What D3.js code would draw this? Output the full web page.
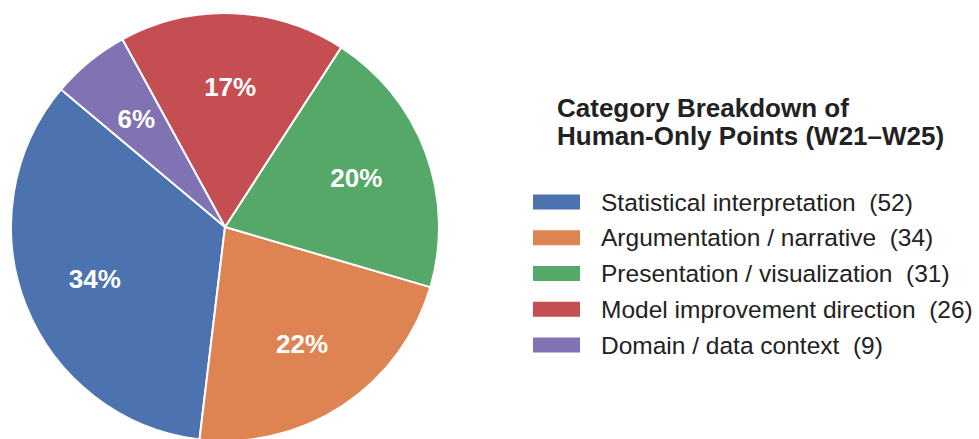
<!DOCTYPE html>
<html>
<head>
<meta charset="utf-8">
<script src="https://cdn.jsdelivr.net/npm/d3@7"></script>
<style>
  body { margin: 0; background: #fff; }
  svg { display: block; font-family: "Liberation Sans", Arial, sans-serif; }
</style>
</head>
<body>
<div id="chart"></div>
<script>
// data
const categories = [
  'Statistical interpretation',
  'Argumentation / narrative',
  'Presentation / visualization',
  'Model improvement direction',
  'Domain / data context'
];
const counts = [52, 34, 31, 26, 9];
const colors = ['#4C72B0', '#DD8452', '#55A868', '#C44E52', '#8172B3'];
const titleLines = ['Category Breakdown of', 'Human-Only Points (W21\u2013W25)'];

const width = 979, height = 439;
const cx = 225, cy = 227, radius = 214;

const svg = d3.select('#chart').append('svg')
    .attr('width', width)
    .attr('height', height);

const data = categories.map((c, i) => ({ name: c, value: counts[i], color: colors[i] }));
const total = d3.sum(counts);

// start at 140deg (counter-clockwise from 3 o'clock), go counter-clockwise
const start = (90 - 140) * Math.PI / 180;
const pie = d3.pie()
    .sort(null)
    .value(d => d.value)
    .startAngle(start)
    .endAngle(start - 2 * Math.PI);

const arc = d3.arc().innerRadius(0).outerRadius(radius);
const labelArc = d3.arc().innerRadius(140).outerRadius(140);

const g = svg.append('g')
    .attr('transform', 'translate(' + cx + ',' + cy + ')');

const slices = pie(data);

g.selectAll('path')
  .data(slices)
  .enter().append('path')
    .attr('d', arc)
    .attr('fill', d => d.data.color)
    .attr('stroke', '#fff')
    .attr('stroke-width', 2)
    .attr('stroke-linejoin', 'round');

g.selectAll('text.pct')
  .data(slices)
  .enter().append('text')
    .attr('class', 'pct')
    .attr('transform', d => 'translate(' + labelArc.centroid(d) + ')')
    .attr('text-anchor', 'middle')
    .attr('dy', '0.35em')
    .attr('fill', '#fff')
    .style('font-size', '26px')
    .style('font-weight', 'bold')
    .text(d => Math.round(d.data.value / total * 100) + '%');

// legend
const legend = svg.append('g').attr('transform', 'translate(533,0)');

legend.selectAll('text.title')
  .data(titleLines)
  .enter().append('text')
    .attr('class', 'title')
    .attr('x', 24)
    .attr('y', (d, i) => 117 + i * 27.5)
    .attr('fill', '#222')
    .style('font-size', '26px')
    .style('font-weight', 'bold')
    .text(d => d);

const rowY = d3.scalePoint()
    .domain(categories)
    .range([202, 345]);

const rows = legend.selectAll('g.row')
  .data(data)
  .enter().append('g')
    .attr('class', 'row')
    .attr('transform', d => 'translate(0,' + rowY(d.name) + ')');

rows.append('rect')
    .attr('x', 0)
    .attr('y', -7.5)
    .attr('width', 47)
    .attr('height', 15)
    .attr('fill', d => d.color);

rows.append('text')
    .attr('x', 68)
    .attr('y', 0)
    .attr('dy', '0.35em')
    .attr('fill', '#222')
    .style('font-size', '24.5px')
    .text(d => d.name + '\u00a0\u00a0(' + d.value + ')');
</script>
</body>
</html>
